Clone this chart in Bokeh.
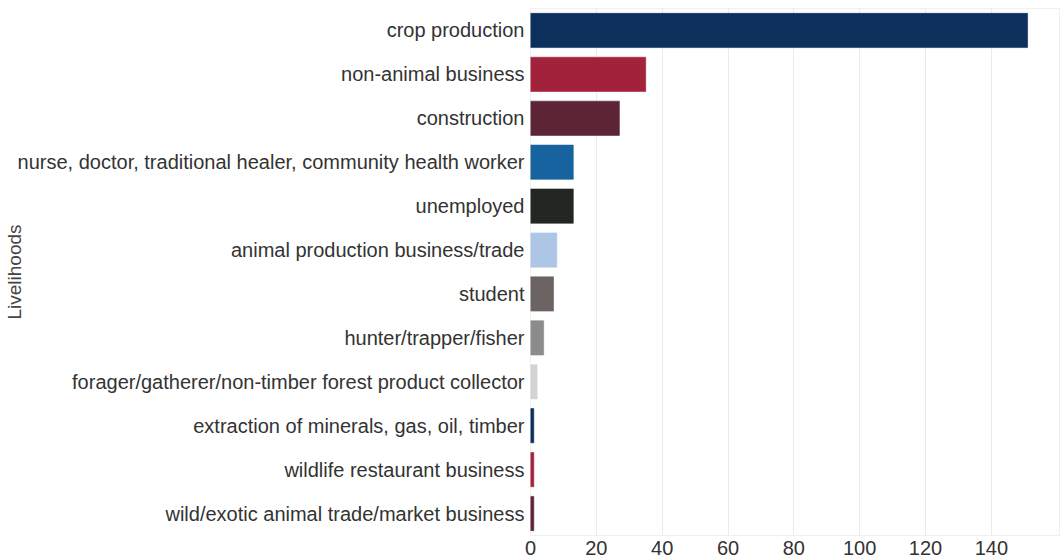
from bokeh.plotting import figure
from bokeh.models import FactorRange, Range1d, ColumnDataSource
from bokeh.embed import file_html
from bokeh.resources import INLINE

livelihoods = [
    "crop production",
    "non-animal business",
    "construction",
    "nurse, doctor, traditional healer, community health worker",
    "unemployed",
    "animal production business/trade",
    "student",
    "hunter/trapper/fisher",
    "forager/gatherer/non-timber forest product collector",
    "extraction of minerals, gas, oil, timber",
    "wildlife restaurant business",
    "wild/exotic animal trade/market business",
]
counts = [151, 35, 27, 13, 13, 8, 7, 4, 2, 1, 1, 1]
colors = ["#0c2f5c", "#a3223b", "#5c2434", "#1763a0", "#232723", "#aec6e6",
          "#6b6463", "#8c8c8c", "#d3d3d3", "#0c2f5c", "#a3223b", "#5c2434"]

src = ColumnDataSource(dict(y=livelihoods, x=counts, c=colors))

p = figure(width=1060, height=557, output_backend="svg", toolbar_location=None,
           y_range=FactorRange(factors=list(reversed(livelihoods)), range_padding=0),
           x_range=Range1d(0, 161),
           min_border_left=0, min_border_right=0, min_border_top=8, min_border_bottom=0)

p.hbar(y="y", right="x", left=0, height=0.78, source=src, fill_color="c",
       line_color="c", line_alpha=0.6, line_width=1)

p.outline_line_color = "#f0f0f0"
p.ygrid.grid_line_color = None
p.xgrid.grid_line_color = "#ebebeb"
p.xaxis.ticker = [0, 20, 40, 60, 80, 100, 120, 140]

for ax in (p.xaxis, p.yaxis):
    ax.major_tick_line_color = None
    ax.minor_tick_line_color = None
    ax.major_tick_out = 0
    ax.major_tick_in = 0
    ax.axis_line_color = None
    ax.major_label_text_font = "Liberation Sans"
    ax.major_label_text_font_size = "20px"
    ax.major_label_text_color = "#333333"

p.xaxis.axis_line_color = "#f0f0f0"
p.xaxis.major_label_standoff = 5
p.yaxis.major_label_standoff = 6
p.yaxis.axis_label = "Livelihoods"
p.yaxis.axis_label_text_font = "Liberation Sans"
p.yaxis.axis_label_text_font_size = "19px"
p.yaxis.axis_label_text_font_style = "normal"
p.yaxis.axis_label_text_color = "#444444"
p.yaxis.axis_label_standoff = -10

open("out.html", "w").write(file_html(p, INLINE))
